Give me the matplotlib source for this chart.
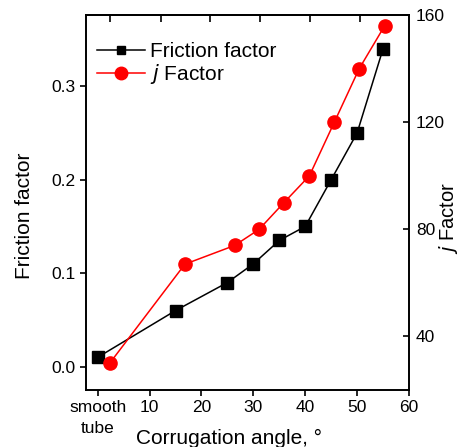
import matplotlib
matplotlib.use("Agg")
import matplotlib.pyplot as plt

plt.rcParams['font.family'] = ['Liberation Sans', 'DejaVu Sans']

# Data
friction_x = [0, 15, 25, 30, 35, 40, 45, 50, 55]
friction_y = [0.010, 0.060, 0.090, 0.110, 0.135, 0.150, 0.200, 0.250, 0.340]
j_x = [2.3, 16.8, 26.4, 31.1, 35.9, 40.8, 45.6, 50.4, 55.3]
j_y = [30, 67, 74, 80, 90, 100, 120, 140, 156]
x_ticks = [0, 10, 20, 30, 40, 50, 60]
x_ticklabels = ["smooth\ntube", "10", "20", "30", "40", "50", "60"]
left_ticks = [0.0, 0.1, 0.2, 0.3]
right_ticks = [40, 80, 120, 160]
top_ticks = [2.3, 12.2, 21.6, 31.3, 40.9, 50.6]

fig = plt.figure(figsize=(4.59, 4.47), dpi=100)
ax = fig.add_axes([0.187, 0.1275, 0.704, 0.8385])
ax2 = ax.twinx()

l1, = ax.plot(friction_x, friction_y, color='black', marker='s', markersize=8.5,
              linewidth=1.1, label='Friction factor', zorder=3)
l2, = ax2.plot(j_x, j_y, color='red', marker='o', markersize=9.5,
               linewidth=1.1, label='$j$ Factor', zorder=3)

ax.set_xlim(-2.3, 60)
ax.set_ylim(-0.025, 0.376)
ax2.set_ylim(20, 160)

ax.set_xticks(x_ticks)
ax.set_xticklabels(x_ticklabels, fontsize=12.5, linespacing=1.45)
ax.set_yticks(left_ticks)
ax.set_yticklabels([f"{v:.1f}" for v in left_ticks], fontsize=12.5)
ax2.set_yticks(right_ticks)
ax2.set_yticklabels([str(v) for v in right_ticks], fontsize=12.5)

ax.tick_params(axis='x', direction='out', length=4.5, width=1.2, pad=3)
ax.tick_params(axis='y', direction='out', length=4.5, width=1.2, pad=3)
ax2.tick_params(axis='y', direction='in', length=4.5, width=1.2, pad=5)

top = ax.secondary_xaxis('top')
top.set_xticks(top_ticks)
top.set_xticklabels([])
top.tick_params(direction='in', length=5, width=1.2)

for a in (ax, ax2):
    for s in a.spines.values():
        s.set_linewidth(1.2)
for s in top.spines.values():
    s.set_linewidth(1.2)

ax.set_xlabel("Corrugation angle, °", fontsize=15)
ax.xaxis.set_label_coords(0.443, -0.103)
ax.set_ylabel("Friction factor", fontsize=15, va='center')
ax.yaxis.set_label_coords(-0.19, 0.464)
ax2.set_ylabel("$j$ Factor", fontsize=14.5, rotation=90, va='center')
ax2.yaxis.set_label_coords(1.121, 0.46)

leg = ax.legend(handles=[l1, l2], loc='upper left', frameon=False, fontsize=15,
                handlelength=2.3, handletextpad=0.25, borderaxespad=0.0,
                borderpad=0.3, labelspacing=0.06,
                bbox_to_anchor=(0.014, 0.945))
leg.legend_handles[0].set_markersize(6)
leg.legend_handles[1].set_markersize(9)

fig.savefig("out.png", dpi=100)
